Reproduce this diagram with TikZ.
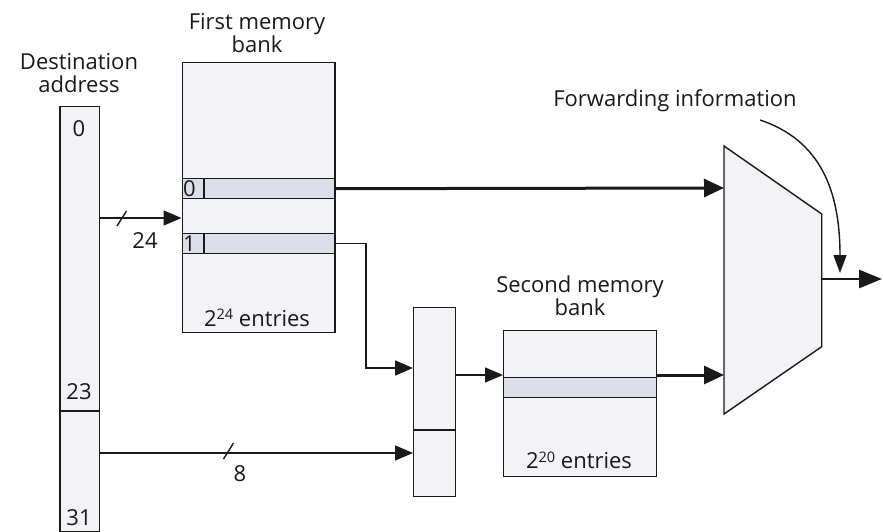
\documentclass[tikz,border=0pt]{standalone}
\usepackage{fontspec}
\setmainfont{Open Sans}
\usetikzlibrary{arrows.meta}
\definecolor{boxfill}{RGB}{242,242,247}
\definecolor{rowfill}{RGB}{220,223,234}
\definecolor{ink}{RGB}{25,25,25}
% raised exponent in the table size labels
\newcommand{\expo}[1]{\raisebox{6.3pt}{\fontsize{14.5}{15}\selectfont #1}}
\tikzset{
  box/.style={draw=ink, line width=1.4pt, fill=boxfill, inner sep=0pt, anchor=north west},
  rowbox/.style={draw=ink, line width=1.4pt, fill=rowfill, inner sep=0pt, anchor=north west},
  lbl/.style={font=\fontsize{22}{23}\selectfont, text=ink, inner sep=0pt, align=center},
  thin/.style={draw=ink, line width=1.4pt},
  arr/.style={thin, -{Triangle[length=18pt,width=15pt]}},
  thickarr/.style={draw=ink, line width=3pt, -{Triangle[length=20pt,width=18pt]}},
  busmark/.style={draw=ink, line width=1.4pt},
}
\begin{document}
\begin{tikzpicture}[x=1pt,y=-1pt]
\useasboundingbox (0,0) rectangle (883,532);

% destination address register
\node[box, minimum width=39.4pt, minimum height=425pt] (addr) at (59.3,106) {};
\draw[thin] (59.3,411) -- (98.7,411);
\node[lbl] (dalbl) at (79,73) {Destination\\address};
\node[lbl] (b0) at (79,129) {0};
\node[lbl] (b23) at (79,392) {23};
\node[lbl] (b31) at (79,518) {31};

% first memory bank
\node[box, minimum width=152.8pt, minimum height=270pt] (bank1) at (181.5,62) {};
\node[rowbox, minimum width=152.8pt, minimum height=20pt] (r0) at (181.5,178) {};
\draw[thin] (204,178) -- (204,198);
\node[lbl, anchor=west] (r0id) at (183,189) {0};
\node[rowbox, minimum width=152.8pt, minimum height=20.3pt] (r1) at (181.5,232.7) {};
\draw[thin] (204,232.7) -- (204,253);
\node[lbl, anchor=west] (r1id) at (183,244) {1};
\node[lbl] (n24) at (257,318) {2\expo{24} entries};
\node[lbl] (b1lbl) at (257,33) {First memory\\bank};

% concatenation register
\node[box, minimum width=42pt, minimum height=189pt] (cat) at (413,307) {};
\draw[thin] (413,430) -- (455,430);

% second memory bank
\node[box, minimum width=153pt, minimum height=146pt] (bank2) at (503,330) {};
\node[rowbox, minimum width=153pt, minimum height=19.5pt] (r2) at (503,377) {};
\node[lbl] (n20) at (579,460) {2\expo{20} entries};
\node[lbl] (b2lbl) at (580,296) {Second memory\\bank};

% output multiplexer
\coordinate (mtl) at (724,146);
\coordinate (mtr) at (821.7,214);
\coordinate (mbr) at (821.7,346.7);
\coordinate (mbl) at (724,414);
\filldraw[fill=boxfill, draw=ink, line width=1.4pt] (mtl) -- (mtr) -- (mbr) -- (mbl) -- cycle;
\coordinate (min0) at (724,188);
\coordinate (min1) at (724,375);
\coordinate (mout) at (821.7,279);
\coordinate (fout) at (882,279);

% forwarding information
\node[lbl] (fwd) at (675,101) {Forwarding information};
\coordinate (fwdstart) at (760,120);
\coordinate (fwdend) at (840,273);

% connectors
\coordinate (b1in) at (181.5,218);
\draw[arr] (addr.east |- b1in) -- (b1in);
\draw[busmark] (117,226) -- (126.5,211);
\node[lbl] (w24) at (145,241) {24};

\draw[thickarr] (r0.east) -- (min0);

\coordinate (catin0) at (413,368);
\draw[arr] (r1.east) -| (366,368) -- (catin0);

\coordinate (catin1) at (413,453);
\draw[arr] (addr.east |- catin1) -- (catin1);
\draw[busmark] (223.5,459) -- (233.5,443);
\node[lbl] (w8) at (240,474) {8};

\coordinate (b2in) at (503,375);
\draw[arr] (cat.east |- b2in) -- (b2in);

\coordinate (r2out) at (656,375);
\draw[thickarr] (r2out) -- (min1);

\draw[draw=ink, line width=2.8pt, -{Triangle[length=23pt,width=18pt]}] (mout) -- (fout);

\draw[draw=ink, line width=1.4pt, -{Triangle[length=18pt,width=13pt]}]
  (fwdstart) .. controls (820,140) and (840,190) .. (fwdend);
\end{tikzpicture}
\end{document}
